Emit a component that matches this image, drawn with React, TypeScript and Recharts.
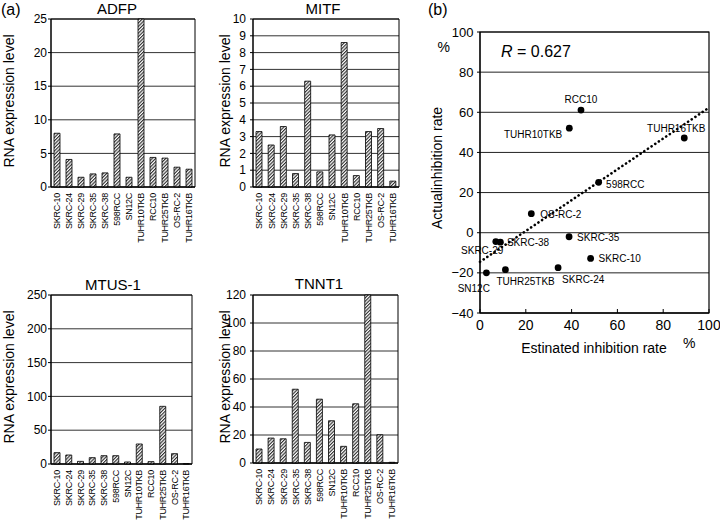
import React from 'react';
import {
  BarChart, Bar, XAxis, YAxis, CartesianGrid, ReferenceArea, ReferenceLine, ScatterChart, Scatter,
} from 'recharts';

// cell lines shared by the four expression panels
const cellLines = ['SKRC-10', 'SKRC-24', 'SKRC-29', 'SKRC-35', 'SKRC-38', '598RCC', 'SN12C', 'TUHR10TKB', 'RCC10', 'TUHR25TKB', 'OS-RC-2', 'TUHR16TKB'];

const adfpValues = [8.0, 4.1, 1.45, 1.95, 2.1, 7.9, 1.45, 25, 4.4, 4.3, 2.95, 2.65];
const mitfValues = [3.3, 2.5, 3.6, 0.8, 6.3, 0.9, 3.1, 8.6, 0.68, 3.3, 3.48, 0.35];
const mtusValues = [16.8, 13.3, 3.9, 9.4, 12.3, 12.3, 3.0, 29.6, 3.5, 85.3, 15.3, 0.5];
const tnntValues = [10.0, 17.8, 17.3, 52.7, 14.7, 45.6, 30.2, 11.9, 42.3, 120, 20.2, 0.5];

const adfpTicks = [0, 5, 10, 15, 20, 25];
const mitfTicks = [0, 1, 2, 3, 4, 5, 6, 7, 8, 9, 10];
const mtusTicks = [0, 50, 100, 150, 200, 250];
const tnntTicks = [0, 20, 40, 60, 80, 100, 120];

// panel (b)
const scatterNames = ['RCC10', 'TUHR10TKB', 'TUHR16TKB', '598RCC', 'OS-RC-2', 'SKRC-35', 'SKRC-38', 'SKRC-29', 'SKRC-10', 'SKRC-24', 'TUHR25TKB', 'SN12C'];
const estimatedRate = [44.1, 39.0, 89.2, 51.8, 22.4, 38.9, 8.9, 6.9, 48.3, 34.1, 11.1, 2.8];
const actualRate = [61.1, 52.1, 47.2, 25.1, 9.5, -2.0, -4.7, -4.4, -12.8, -17.4, -18.4, -20.0];
const scatterXTicks = [0, 20, 40, 60, 80, 100];
const scatterYTicks = [-40, -20, 0, 20, 40, 60, 80, 100];
const trendEnds = [-14.5, 62.3]; // fitted line at x = 0 and x = 100

const FONT = '"Liberation Sans", Arial, Helvetica, sans-serif';
const AXIS_W = 40;
const PAD_TOP = 12;
const X_AXIS_H = 70;

// where each point label sits relative to its dot
const labelPlace: Record<string, { dx: number; dy: number; anchor: 'start' | 'middle' | 'end' }> = {
  RCC10: { dx: 0, dy: -7, anchor: 'middle' },
  TUHR10TKB: { dx: -7, dy: 9.5, anchor: 'end' },
  TUHR16TKB: { dx: -8, dy: -6, anchor: 'middle' },
  '598RCC': { dx: 7.5, dy: 5.5, anchor: 'start' },
  'OS-RC-2': { dx: 9, dy: 4.5, anchor: 'start' },
  'SKRC-35': { dx: 8, dy: 4, anchor: 'start' },
  'SKRC-38': { dx: 6.5, dy: 4.3, anchor: 'start' },
  'SKRC-29': { dx: 7.5, dy: 12.5, anchor: 'end' },
  'SKRC-10': { dx: 8, dy: 4, anchor: 'start' },
  'SKRC-24': { dx: 4, dy: 15.5, anchor: 'start' },
  TUHR25TKB: { dx: -9, dy: 15.3, anchor: 'start' },
  SN12C: { dx: 3.5, dy: 19, anchor: 'end' },
};

const renderCategoryTick = (props: any) => {
  const { x, y, payload } = props;
  return (
    <text
      x={x}
      y={y}
      transform={`rotate(-90 ${x} ${y})`}
      textAnchor="end"
      dx={-6}
      dy={3.3}
      fontSize={9}
      letterSpacing={-0.3}
      fill="#000"
      fontFamily={FONT}
    >
      {payload.value}
    </text>
  );
};

const renderPoint = (props: any) => {
  const { cx, cy, payload } = props;
  const p = labelPlace[payload.name];
  return (
    <g>
      <circle cx={cx} cy={cy} r={3.4} fill="#000" />
      <text x={cx + p.dx} y={cy + p.dy} textAnchor={p.anchor} fontSize={10} fill="#000" fontFamily={FONT}>
        {payload.name}
      </text>
    </g>
  );
};

type PanelProps = {
  id: string;
  values: number[];
  ticks: number[];
  plotLeft: number;
  plotRight: number;
  plotTop: number;
  plotBottom: number;
  tickGap: number;
};

function ExpressionPanel({ id, values, ticks, plotLeft, plotRight, plotTop, plotBottom, tickGap }: PanelProps) {
  const data = cellLines.map((name, i) => ({ name, value: values[i] }));
  const width = plotRight - plotLeft + AXIS_W + 5;
  const height = plotBottom - plotTop + PAD_TOP + X_AXIS_H;
  const max = ticks[ticks.length - 1];
  return (
    <div style={{ position: 'absolute', left: plotLeft - AXIS_W, top: plotTop - PAD_TOP }}>
      <BarChart width={width} height={height} data={data} margin={{ top: PAD_TOP, right: 5, bottom: 0, left: 0 }}>
        <defs>
          <pattern id={`hatch-${id}`} patternUnits="userSpaceOnUse" width={2.4} height={2.4} patternTransform="rotate(45)">
            <rect width={2.4} height={2.4} fill="#fff" />
            <line x1={0.6} y1={0} x2={0.6} y2={2.4} stroke="#111" strokeWidth={1} />
          </pattern>
        </defs>
        <CartesianGrid vertical={false} stroke="#333" />
        <XAxis
          dataKey="name"
          interval={0}
          tick={renderCategoryTick}
          tickLine={false}
          tickSize={0}
          tickMargin={0}
          height={X_AXIS_H}
          axisLine={{ stroke: '#000' }}
        />
        <YAxis
          type="number"
          domain={[0, max]}
          ticks={ticks}
          interval={0}
          width={AXIS_W}
          tickSize={3}
          tickMargin={tickGap - 3}
          axisLine={{ stroke: '#000' }}
          tickLine={{ stroke: '#000' }}
          tick={{ fontSize: 12, fill: '#000', fontFamily: FONT }}
        />
        <ReferenceArea y1={0} y2={max} fill="none" stroke="#000" strokeWidth={1} />
        <Bar dataKey="value" barSize={6} fill={`url(#hatch-${id})`} stroke="#000" strokeWidth={0.8} isAnimationActive={false} />
      </BarChart>
    </div>
  );
}

const scatterData = scatterNames.map((name, i) => ({ name, x: estimatedRate[i], y: actualRate[i] }));

const minusFormat = (v: number) => (v < 0 ? `\u2212${Math.abs(v)}` : `${v}`);

export default function App() {
  const sLeft = 480;
  const sRight = 709;
  const sTop = 32;
  const sBottom = 313;
  const sXAxisH = 35;
  const sRightPad = 11;
  return (
    <div style={{ position: 'absolute', left: 0, top: 0, width: 720, height: 522, background: '#fff', fontFamily: FONT }}>
      <ExpressionPanel id="adfp" values={adfpValues} ticks={adfpTicks} plotLeft={51} plotRight={195} plotTop={19} plotBottom={187} tickGap={4} />
      <ExpressionPanel id="mitf" values={mitfValues} ticks={mitfTicks} plotLeft={253} plotRight={399} plotTop={19} plotBottom={187} tickGap={7} />
      <ExpressionPanel id="mtus" values={mtusValues} ticks={mtusTicks} plotLeft={51} plotRight={192} plotTop={295} plotBottom={464} tickGap={4} />
      <ExpressionPanel id="tnnt" values={tnntValues} ticks={tnntTicks} plotLeft={253} plotRight={398} plotTop={295} plotBottom={463} tickGap={7} />

      <div style={{ position: 'absolute', left: sLeft - AXIS_W, top: sTop - PAD_TOP }}>
        <ScatterChart
          width={sRight - sLeft + AXIS_W + sRightPad}
          height={sBottom - sTop + PAD_TOP + sXAxisH}
          margin={{ top: PAD_TOP, right: sRightPad, bottom: 0, left: 0 }}
        >
          <CartesianGrid vertical={false} stroke="#222" />
          <XAxis
            type="number"
            dataKey="x"
            domain={[0, 100]}
            ticks={scatterXTicks}
            interval={0}
            height={sXAxisH}
            tickSize={-4}
            tickMargin={11}
            axisLine={{ stroke: '#000' }}
            tickLine={{ stroke: '#000' }}
            tick={{ fontSize: 14, fill: '#000', fontFamily: FONT }}
          />
          <YAxis
            type="number"
            dataKey="y"
            domain={[-40, 100]}
            ticks={scatterYTicks}
            interval={0}
            width={AXIS_W}
            tickSize={3}
            tickMargin={3.5}
            tickFormatter={minusFormat}
            axisLine={{ stroke: '#000' }}
            tickLine={{ stroke: '#000' }}
            tick={{ fontSize: 13, fill: '#000', fontFamily: FONT }}
          />
          <ReferenceArea x1={0} x2={100} y1={-40} y2={100} fill="none" stroke="#000" strokeWidth={1.2} />
          <ReferenceLine
            segment={[{ x: 0, y: trendEnds[0] }, { x: 100, y: trendEnds[1] }]}
            stroke="#000"
            strokeWidth={2.6}
            strokeDasharray="0.1 4.3"
            strokeLinecap="round"
          />
          <Scatter data={scatterData} shape={renderPoint} isAnimationActive={false} />
        </ScatterChart>
      </div>

      <svg width={720} height={522} style={{ position: 'absolute', left: 0, top: 0, pointerEvents: 'none' }} fontFamily={FONT}>
        <text x={1} y={15} fontSize={16}>(a)</text>
        <text x={428} y={15} fontSize={16}>(b)</text>

        <text x={117} y={13.5} fontSize={15} textAnchor="middle">ADFP</text>
        <text x={323} y={13.5} fontSize={15} textAnchor="middle">MITF</text>
        <text x={113} y={290} fontSize={15} textAnchor="middle">MTUS-1</text>
        <text x={319} y={288.5} fontSize={15} textAnchor="middle">TNNT1</text>

        <text x={14} y={101} fontSize={14} textAnchor="middle" transform="rotate(-90 14 101)">RNA expression level</text>
        <text x={230} y={101} fontSize={14} textAnchor="middle" transform="rotate(-90 230 101)">RNA expression level</text>
        <text x={14} y={377} fontSize={14} textAnchor="middle" transform="rotate(-90 14 377)">RNA expression level</text>
        <text x={230} y={377} fontSize={14} textAnchor="middle" transform="rotate(-90 230 377)">RNA expression level</text>

        <text x={501} y={57} fontSize={16}>
          <tspan fontStyle="italic">R</tspan> = 0.627
        </text>
        <text x={437.5} y={52} fontSize={14}>%</text>
        <text x={442} y={168} fontSize={14} textAnchor="middle" transform="rotate(-90 442 168)">Actualinhibition rate</text>
        <text x={594} y={353} fontSize={14} textAnchor="middle">Estinated inhibition rate</text>
        <text x={683} y={348} fontSize={14}>%</text>
      </svg>
    </div>
  );
}
